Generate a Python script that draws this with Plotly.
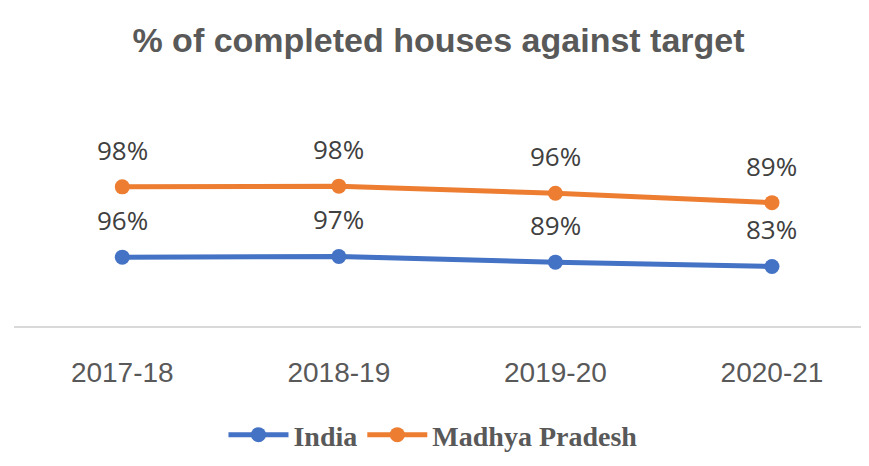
import numpy as np
import plotly.graph_objects as go

years = ["2017-18", "2018-19", "2019-20", "2020-21"]
india = [96, 97, 89, 83]
mp = [98, 98, 96, 89]
series_names = ["India", "Madhya Pradesh"]
colors = ["#4472C4", "#ED7D31"]

fig = go.Figure()
series = [india, mp]
for name, vals, col in zip(series_names, series, colors):
    fig.add_trace(go.Scatter(
        x=years, y=vals, name=name, mode="lines+markers",
        stackgroup="one", fill="none",
        line=dict(color=col, width=5),
        marker=dict(color=col, size=15),
        hoverinfo="skip",
    ))

cum = np.cumsum(np.array(series), axis=0)
for vals, cvals in zip(series, cum):
    for x, v, c in zip(years, vals, cvals):
        fig.add_annotation(
            x=x, y=float(c), text=f"{v}%", showarrow=False,
            yshift=37, yanchor="middle",
            font=dict(family="Open Sans", size=26, color="#404040"),
        )

fig.update_layout(
    width=861, height=458,
    margin=dict(l=6, r=0, t=72, b=140),
    paper_bgcolor="white", plot_bgcolor="white",
    title=dict(
        text="<b>% of completed houses against target</b>",
        x=0.5, xanchor="center", y=0.93, yanchor="middle",
        font=dict(family="Liberation Sans", size=34, color="#595959"),
    ),
    xaxis=dict(
        type="category", range=[-0.5, 3.448],
        showline=True, linecolor="#d9d9d9", linewidth=2,
        showgrid=False, ticks="outside", ticklen=20, tickcolor="rgba(0,0,0,0)",
        tickfont=dict(family="Liberation Sans", size=28, color="#595959"),
    ),
    yaxis=dict(range=[0, 343], visible=False),
    legend=dict(
        orientation="h", x=0.245, xanchor="left", y=-0.443, yanchor="middle",
        font=dict(family="Liberation Serif", size=28, color="#595959", weight="bold"),
        traceorder="normal", itemwidth=60,
    ),
    showlegend=True,
)
fig.write_html("out.html")
